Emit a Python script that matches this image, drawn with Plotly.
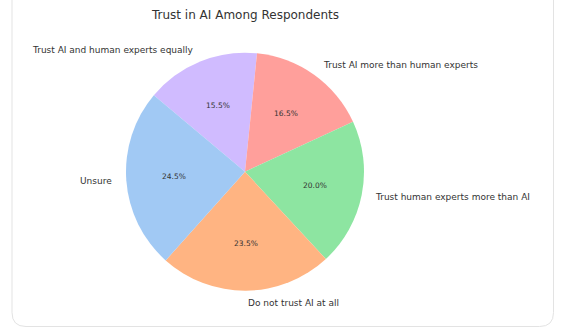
import numpy as np
import plotly.graph_objects as go

# Data (matplotlib-style order, counterclockwise from start angle 140°)
labels = ["Unsure", "Do not trust AI at all", "Trust human experts more than AI",
          "Trust AI more than human experts", "Trust AI and human experts equally"]
values = [24.5, 23.5, 20.0, 16.5, 15.5]
colors = ["#a1c9f4", "#ffb482", "#8de5a1", "#ff9f9b", "#d0bbff"]
title_text = "Trust in AI Among Respondents"

W, H = 566, 334
CX, CY, R = 245.0, 171.7, 119.0   # pie centre / radius in pixels
START = 140.0                      # start angle (deg, ccw from +x)
FONT = "DejaVu Sans"
TXT = "#333333"

def px(x):
    return x / W

def py(y):
    return 1 - y / H

fig = go.Figure()
# plotly clockwise: reverse the order so the visual ccw order matches
fig.add_trace(go.Pie(
    labels=labels[::-1], values=values[::-1],
    marker=dict(colors=colors[::-1], line=dict(width=0)),
    sort=False, direction="clockwise", rotation=90 - START,
    textinfo="none", hoverinfo="label+percent",
    domain=dict(x=[px(CX - R), px(CX + R)], y=[py(CY + R), py(CY - R)]),
    showlegend=False,
))

vals = np.array(values, dtype=float)
total = vals.sum()
cum = np.cumsum(vals)
mids = START + 360.0 * (cum - vals / 2) / total
annotations = []
for lab, v, m in zip(labels, vals, mids):
    t = np.deg2rad(m)
    c, s = np.cos(t), np.sin(t)
    # percentage inside at 0.6 r
    annotations.append(dict(
        x=px(CX + 0.6 * R * c), y=py(CY - 0.6 * R * s), xref="paper", yref="paper",
        text=f"{v / total * 100:.1f}%", showarrow=False,
        xanchor="center", yanchor="middle",
        font=dict(family=FONT, size=7.5, color=TXT)))
    # label outside at 1.1 r
    annotations.append(dict(
        x=px(CX + 1.1 * R * c), y=py(CY - 1.1 * R * s), xref="paper", yref="paper",
        text=lab, showarrow=False,
        xanchor="left" if c > 0 else "right", yanchor="middle",
        font=dict(family=FONT, size=9, color=TXT)))

# rounded card frame
L, Rt, B, T, rad = 12.0, 553.5, 326.5, -30.0, 14.0
rx, ry = rad / W, rad / H
path = (f"M {px(L)},{py(T)} L {px(L)},{py(B) + ry} "
        f"Q {px(L)},{py(B)} {px(L) + rx},{py(B)} "
        f"L {px(Rt) - rx},{py(B)} "
        f"Q {px(Rt)},{py(B)} {px(Rt)},{py(B) + ry} "
        f"L {px(Rt)},{py(T)}")

fig.update_layout(
    width=W, height=H,
    margin=dict(l=0, r=0, t=0, b=0),
    paper_bgcolor="white", plot_bgcolor="white",
    title=dict(text=title_text, x=px(245.5), y=py(15), xanchor="center", yanchor="middle",
               font=dict(family=FONT, size=12, color=TXT)),
    annotations=annotations,
    shapes=[dict(type="path", path=path, xref="paper", yref="paper",
                 line=dict(color="#e3e3e3", width=1), fillcolor="rgba(0,0,0,0)")],
)

fig.write_html("out.html")
